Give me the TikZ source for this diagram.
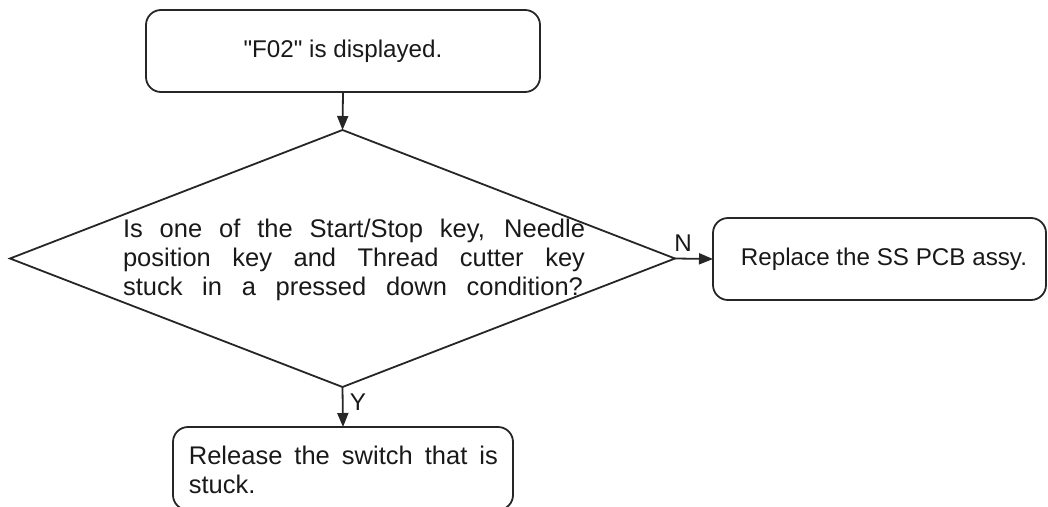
\documentclass[tikz,border=0pt]{standalone}
\usepackage{fontspec}
\setmainfont{Liberation Sans}
\newfontfamily\plainsans{Liberation Sans}
\usetikzlibrary{shapes.geometric,arrows.meta}
\begin{document}
\begin{tikzpicture}[x=1pt,y=-1pt,
  line width=1.8pt, draw=black!85,
  box/.style={draw, rounded corners=15pt, inner sep=0pt, outer sep=0pt},
  dia/.style={draw, diamond, inner sep=0pt, outer sep=0pt},
  txt/.style={font=\plainsans\fontsize{24.2}{29}\selectfont, text=black!90, inner sep=0pt},
  bigtxt/.style={font=\plainsans\fontsize{25.5}{29}\selectfont, text=black!90, inner sep=0pt},
  arr/.style={-{Triangle[length=14pt,width=11pt]}, draw=black!85}]
\useasboundingbox (0,0) rectangle (1048,506);
\clip (0,0) rectangle (1048,506);
\node[box, minimum width=394pt, minimum height=82pt] (top) at (343,51) {};
\node[txt] (toptext) at (343,51) {"F02" is displayed.};
\node[dia, minimum width=665pt, minimum height=257pt] (q) at (342.5,258.5) {};
\node[bigtxt, align=left] (qtext) at (354,260) {\makebox[462pt][s]{Is one of the Start/Stop key, Needle}\\\makebox[462pt][s]{position key and Thread cutter key}\\\makebox[460pt][s]{stuck in a pressed down condition?}};
\node[box, minimum width=333pt, minimum height=82pt] (rep) at (879.5,259) {};
\node[txt] (reptext) at (884,259) {Replace the SS PCB assy.};
\node[box, minimum width=340pt, minimum height=83pt] (rel) at (343,468.5) {};
\node[bigtxt, align=left, anchor=west] (reltext) at (188,470) {\makebox[309pt][s]{Release the switch that is}\\stuck.};
\draw[arr] (top.south) -- (q.north);
\draw[arr] (q.east) -- (rep.west);
\draw[arr] (q.south) -- (rel.north);
\node[txt] (nlab) at (683,243) {N};
\node[txt] (ylab) at (358,402) {Y};
\end{tikzpicture}
\end{document}
